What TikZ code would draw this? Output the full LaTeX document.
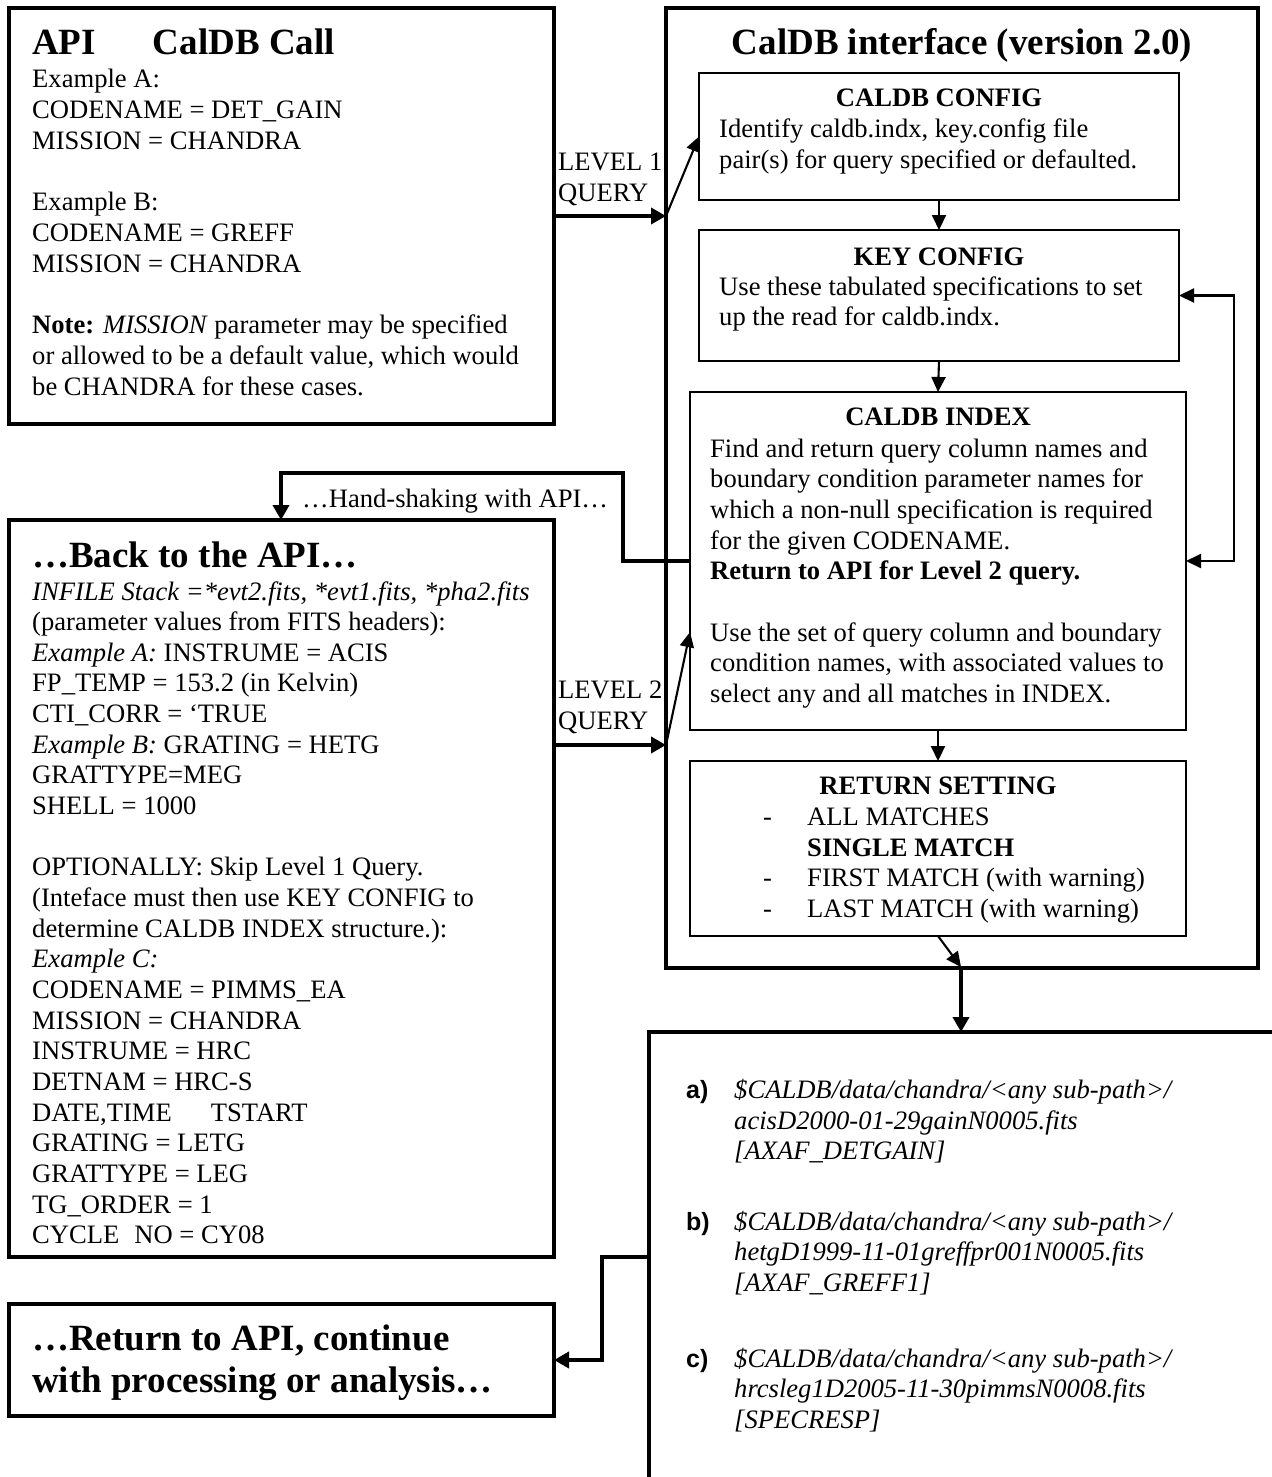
\documentclass[tikz,border=0pt]{standalone}
\usepackage{fontspec}
\setmainfont{Liberation Serif}
\newfontfamily\labelsans{Liberation Sans}
\usetikzlibrary{arrows.meta}
\newcommand{\bodysize}{\fontsize{26.6}{30.6}\selectfont}
\newcommand{\titlesize}{\fontsize{37}{42.6}\selectfont}

\tikzset{
  bigbox/.style={draw,line width=4.5pt,anchor=north west,inner sep=0pt,outer sep=0pt},
  smallbox/.style={draw,line width=2.3pt,anchor=north west,inner sep=0pt,outer sep=0pt},
  txt/.style={anchor=base west,inner sep=0pt,font=\bodysize},
  head/.style={anchor=base,inner sep=0pt,font=\bodysize\bfseries},
  ttl/.style={anchor=base west,inner sep=0pt,font=\titlesize\bfseries},
  lbl/.style={anchor=base west,inner sep=0pt,font=\fontsize{25}{30}\selectfont\labelsans\bfseries},
  fat/.style={line width=4.5pt,-{Triangle[length=15pt,width=16pt]}},
  slim/.style={line width=2.1pt,-{Triangle[length=15pt,width=14pt]}},
}

\begin{document}
\begin{tikzpicture}[x=1pt,y=-1pt]
\useasboundingbox (0,0) rectangle (1271,1477);

% outer boxes
\node[bigbox,minimum width=545pt,minimum height=416pt](Papi) at (9,8) {};
\node[bigbox,minimum width=545pt,minimum height=737pt](Pback) at (9,520) {};
\node[bigbox,minimum width=545pt,minimum height=112pt](Pend) at (9,1304) {};
\node[bigbox,minimum width=592pt,minimum height=960pt](Pcaldb) at (666,8) {};
\node[bigbox,minimum width=700pt,minimum height=500pt](Pres) at (649,1032) {};

% inner boxes
\node[smallbox,minimum width=480pt,minimum height=127pt](Pconfig) at (699,73) {};
\node[smallbox,minimum width=480pt,minimum height=131pt](Pkey) at (699,230) {};
\node[smallbox,minimum width=496pt,minimum height=338pt](Pindex) at (690,392) {};
\node[smallbox,minimum width=496pt,minimum height=175pt](Preturn) at (690,761) {};

% API call
\node[ttl](Tapi) at (32,55) {API\hspace{57pt}CalDB Call};
\foreach \n/\l in {0/{Example A:},1/{CODENAME = DET\_GAIN},2/{MISSION = CHANDRA},
                   4/{Example B:},5/{CODENAME = GREFF},6/{MISSION = CHANDRA},
                   8/{\textbf{Note:} \textit{MISSION} parameter may be specified},
                   9/{or allowed to be a default value, which would},
                   10/{be CHANDRA for these cases.}}
  \node[txt](Lapi\n) at (32,88+\n*30.7) {\l};

% back to the API
\node[ttl](Tback) at (32,567) {…Back to the API…};
\foreach \n/\l in {0/{\textit{INFILE Stack =*evt2.fits, *evt1.fits, *pha2.fits}},
                   1/{(parameter values from FITS headers):},
                   2/{\textit{Example A:} INSTRUME = ACIS},
                   3/{FP\_TEMP = 153.2 (in Kelvin)},
                   4/{CTI\_CORR = ‘TRUE},
                   5/{\textit{Example B:} GRATING = HETG},
                   6/{GRATTYPE=MEG},
                   7/{SHELL = 1000},
                   9/{OPTIONALLY: Skip Level 1 Query.},
                   10/{(Inteface must then use KEY CONFIG to},
                   11/{determine CALDB INDEX structure.):},
                   12/{\textit{Example C:}},
                   13/{CODENAME = PIMMS\_EA},
                   14/{MISSION = CHANDRA},
                   15/{INSTRUME = HRC},
                   16/{DETNAM = HRC-S},
                   17/{DATE,TIME\hspace{39pt}TSTART},
                   18/{GRATING = LETG},
                   19/{GRATTYPE = LEG},
                   20/{TG\_ORDER = 1},
                   21/{CYCLE\hspace{15pt}NO = CY08}}
  \node[txt](Lback\n) at (32,600+\n*30.65) {\l};

% return to API
\node[ttl](Tend1) at (32,1350) {…Return to API, continue};
\node[ttl](Tend2) at (32,1392.6) {with processing or analysis…};

% CalDB interface
\node[ttl,anchor=base](Tcaldb) at (962,55) {CalDB interface (version 2.0)};

\node[head](Hconfig) at (939,107) {CALDB CONFIG};
\node[txt](Lconfig1) at (719,137) {Identify caldb.indx, key.config file};
\node[txt](Lconfig2) at (719,168) {pair(s) for query specified or defaulted.};

\node[head](Hkey) at (939,265) {KEY CONFIG};
\node[txt](Lkey1) at (719,295) {Use these tabulated specifications to set};
\node[txt](Lkey2) at (719,325) {up the read for caldb.indx.};

\node[head](Hindex) at (938,425) {CALDB INDEX};
\foreach \n/\l in {0/{Find and return query column names and},
                   1/{boundary condition parameter names for},
                   2/{which a non-null specification is required},
                   3/{for the given CODENAME.},
                   4/{\textbf{Return to API for Level 2 query.}},
                   6/{Use the set of query column and boundary},
                   7/{condition names, with associated values to},
                   8/{select any and all matches in INDEX.}}
  \node[txt](Lindex\n) at (710,457+\n*30.7) {\l};

\node[head](Hreturn) at (938,794.6) {RETURN SETTING};
\foreach \n/\l in {1/{ALL MATCHES},2/{\textbf{SINGLE MATCH}},
                   3/{FIRST MATCH (with warning)},4/{LAST MATCH (with warning)}}
  \node[txt](Lreturn\n) at (807,794.6+\n*30.7) {\l};
\foreach \n in {1,3,4}
  \node[txt](Dreturn\n) at (763,794.6+\n*30.7) {-};

% results
\foreach \k/\yy/\fa/\fb in {a/1098.5/acisD2000-01-29gainN0005.fits/AXAF\_DETGAIN,
                           b/1230/hetgD1999-11-01greffpr001N0005.fits/AXAF\_GREFF1,
                           c/1367/hrcsleg1D2005-11-30pimmsN0008.fits/SPECRESP}{
  \node[lbl](R\k) at (686,\yy) {\k)};
  \node[txt,font=\bodysize\itshape](R\k1) at (734,\yy) {\$CALDB/data/chandra/<any sub-path>/};
  \node[txt,font=\bodysize\itshape](R\k2) at (734,\yy+30.5) {\fa};
  \node[txt,font=\bodysize\itshape](R\k3) at (734,\yy+61) {[\fb]};
}

% query labels
\node[txt](Q1a) at (558,170) {LEVEL 1};
\node[txt](Q1b) at (558,201) {QUERY};
\node[txt](Q2a) at (558,698) {LEVEL 2};
\node[txt](Q2b) at (558,729) {QUERY};
\node[txt](Ths) at (302,507) {…Hand-shaking with API…};

% connectors
\coordinate (q1) at (Papi.east -| Pcaldb.west);
\coordinate (q2) at (666,745);
\coordinate (hs) at (623,473);
\coordinate (hb) at (281,0);
\coordinate (r1) at (961,967);

\draw[fat] (Papi.east) -- (q1);
\draw[slim] (q1) -- (Pconfig.west);
\draw[fat] (Pback.east |- q2) -- (q2);
\draw[slim] (q2) -- (Pindex.196);

\path[slim]
  (Pconfig.south) edge (Pkey.north)
  (Pkey.south) edge (Pindex.north)
  (Pindex.south) edge (Preturn.north);

\draw[slim,{Triangle[length=15pt,width=14pt]}-{Triangle[length=15pt,width=14pt]}]
  (Pindex.east) -- ++(48,0) |- (Pkey.east);

\draw[fat] (Pindex.west) -| (hs) -| (hb |- Pback.north);

\draw[slim] (Preturn.south) -- (r1);
\draw[fat] (r1) -- (r1 |- Pres.north);

\draw[fat] (Pres.west |- Pback.south) -- ++(-47,0) |- (Pend.east);
\end{tikzpicture}
\end{document}
